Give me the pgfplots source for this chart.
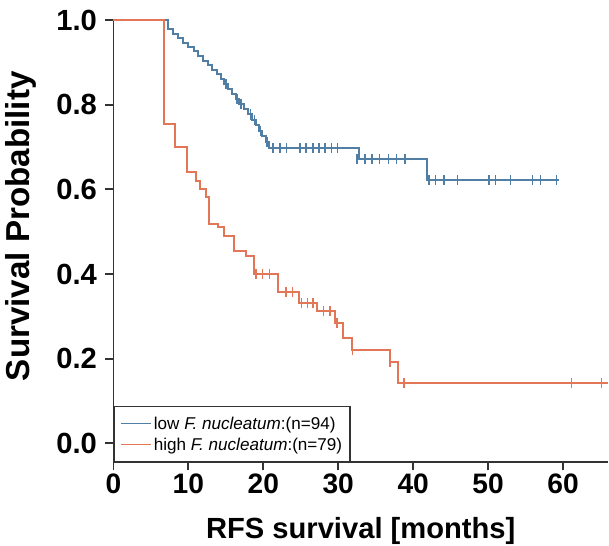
\documentclass[border=0pt]{standalone}
\usepackage{fontspec}
\setmainfont{Liberation Sans}
\usepackage{pgfplots}
\pgfplotsset{compat=1.18}
\definecolor{lowblue}{RGB}{80,126,164}
\definecolor{highorange}{RGB}{228,118,88}

\begin{document}
\begin{tikzpicture}
\begin{axis}[
    scale only axis,
    width=492pt, height=440pt,
    xmin=0, xmax=66, ymin=-0.045, ymax=1.0,
    axis lines=left,
    axis line style={-, line width=1.8pt, black!80},
    tick style={line width=1.8pt, black!80},
    tick align=outside, major tick length=8pt,
    xtick={0,10,20,30,40,50,60},
    xticklabels={0,10,20,30,40,50,60},
    ytick={0,0.2,0.4,0.6,0.8,1.0},
    yticklabels={0.0,0.2,0.4,0.6,0.8,1.0},
    tick label style={font=\fontsize{28}{30}\selectfont\bfseries},
    yticklabel style={font=\fontsize{29}{31}\selectfont\bfseries, xshift=-5pt},
    xlabel={RFS survival [months]},
    ylabel={Survival Probability},
    xlabel style={font=\fontsize{29}{31}\selectfont\bfseries,
        at={(axis description cs:0.5,0)}, anchor=north, inner sep=0pt, yshift=-55pt},
    ylabel style={font=\fontsize{33}{35}\selectfont\bfseries,
        at={(axis description cs:-0.188,0.534)}, anchor=center, inner sep=5pt},
    clip=false,
    legend style={at={(0,0)}, anchor=south west, draw=black!80, line width=1.5pt,
        fill=white, font=\fontsize{17}{19}\selectfont, inner xsep=6pt, inner ysep=8pt,
        row sep=3pt},
    legend cell align=left,
    legend image code/.code={\draw[#1, line width=1.5pt] (0pt,0pt) -- (30pt,0pt);},
]
% low F. nucleatum
\addplot[const plot, lowblue, line width=2pt] coordinates {
(0,1.0) (7.3,0.979) (7.9,0.968) (8.6,0.957) (9.3,0.947) (10.0,0.936)
(10.7,0.926) (11.3,0.915) (12.0,0.904) (12.6,0.893) (13.2,0.882)
(13.8,0.872) (14.3,0.861) (14.8,0.849) (15.3,0.837) (15.8,0.825)
(16.3,0.813) (16.8,0.801) (17.4,0.789) (18.0,0.777) (18.5,0.764)
(19.0,0.751) (19.4,0.738) (19.8,0.725) (20.3,0.711) (20.8,0.697)
(32.8,0.671) (41.8,0.622) (59.5,0.622)};
\addlegendentry{low \textit{F. nucleatum}:(n=94)}
% high F. nucleatum
\addplot[const plot, highorange, line width=2pt] coordinates {
(0,1.0) (6.8,0.755) (8.2,0.700) (9.8,0.641) (11.0,0.621) (11.6,0.600)
(12.3,0.581) (12.75,0.518) (13.9,0.510) (14.8,0.490) (16.1,0.454)
(17.7,0.443) (18.8,0.401) (21.9,0.358) (24.8,0.332) (27.1,0.312)
(29.5,0.284) (30.6,0.249) (31.8,0.221) (36.9,0.193) (38.0,0.142)
(66.0,0.142)};
\addlegendentry{high \textit{F. nucleatum}:(n=79)}
% censored (blue)
\addplot[only marks, mark=|, mark size=5pt, lowblue, mark options={line width=1.5pt}, forget plot] coordinates {
(15.0,0.849) (16.5,0.813) (17.0,0.801) (18.3,0.777) (18.8,0.764)
(19.6,0.738) (20.5,0.711) (21.3,0.697) (22.2,0.697) (23.1,0.697)
(24.9,0.697) (25.7,0.697) (26.6,0.697) (27.4,0.697) (28.2,0.697)
(29.1,0.697) (29.9,0.697)
(32.5,0.671) (33.6,0.671) (34.5,0.671) (35.5,0.671) (36.7,0.671)
(37.8,0.671) (38.9,0.671)
(42.1,0.622) (43.0,0.622) (44.1,0.622) (45.9,0.622) (50.1,0.622)
(51.0,0.622) (53.0,0.622) (55.9,0.622) (57.0,0.622) (59.1,0.622)};
% censored (orange)
\addplot[only marks, mark=|, mark size=5pt, highorange, mark options={line width=1.5pt}, forget plot] coordinates {
(19.0,0.401) (19.9,0.401) (20.8,0.401) (23.0,0.358) (23.9,0.358)
(25.1,0.332) (25.9,0.332) (26.6,0.332) (28.0,0.312) (28.9,0.312)
(29.8,0.284) (31.9,0.221) (36.9,0.193) (38.8,0.142) (61.1,0.142)
(65.1,0.142)};
\end{axis}
% a little room above the axis, as in the reference
\path ([yshift=20pt]current axis.north);
\end{tikzpicture}
\end{document}
